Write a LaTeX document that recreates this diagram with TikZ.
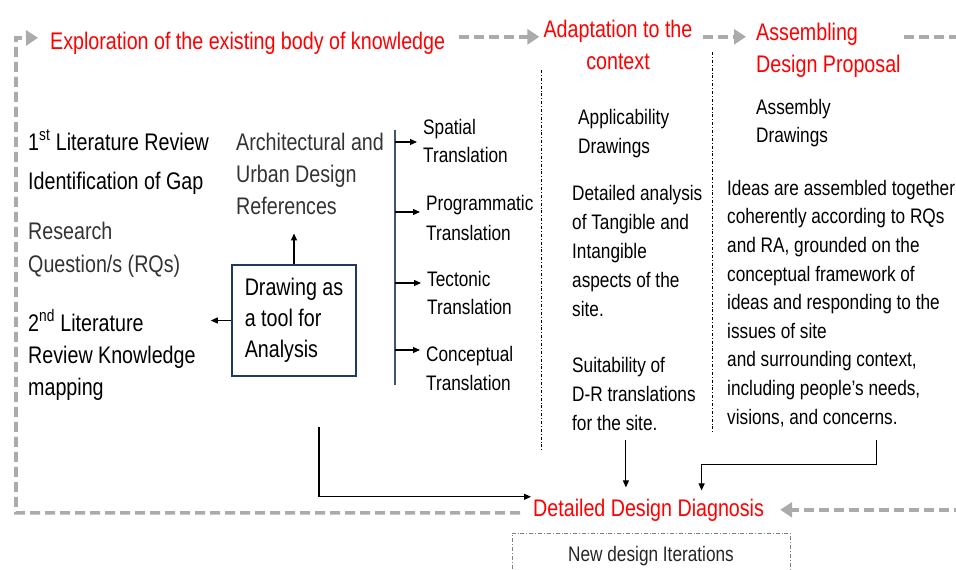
\documentclass[tikz,border=0pt]{standalone}
\usepackage{fontspec}
\setmainfont{Liberation Sans}[FakeStretch=0.82]
\usetikzlibrary{positioning, arrows.meta}
\usepackage{xcolor}

\definecolor{headred}{HTML}{FF0000}
\definecolor{loopgray}{HTML}{ABABAB}
\definecolor{trunkblue}{HTML}{44546A}
\definecolor{toolnavy}{HTML}{1F3864}
\definecolor{softtext}{HTML}{333333}

\begin{document}
\begin{tikzpicture}[
        x=1pt, y=-1pt,
        bigtxt/.style={inner sep=0pt, anchor=base west, align=left, font=\fontsize{24}{32}\selectfont},
        smalltxt/.style={inner sep=0pt, anchor=base west, align=left, font=\fontsize{21}{29}\selectfont},
        redhead/.style={bigtxt, text=headred},
        toolbox/.style={rectangle, draw=toolnavy, line width=2.6pt, minimum width=124pt, minimum height=111pt, align=left, font=\fontsize{24}{31}\selectfont},
        cycleline/.style={draw=loopgray, line width=3.6pt, dash pattern=on 10pt off 5pt, -{Triangle[length=12pt, width=15pt]}},
        arr/.style={draw=black, line width=1.1pt, -{Triangle[length=7pt, width=6pt]}},
        divider/.style={draw=black, line width=0.7pt, dash pattern=on 3pt off 2pt on 0.8pt off 2pt}
    ]
    \useasboundingbox (0,0) rectangle (956,570);

    % EXPLORATION OF THE EXISTING BODY OF KNOWLEDGE
    % (multi-line nodes sit on the baseline of their last line)
    \node[redhead] (explore) at (50,49) {Exploration of the existing body of knowledge};
    \node[bigtxt] (lit1) at (28,150) {1\textsuperscript{st} Literature Review};
    \node[bigtxt] (gap) at (28,189) {Identification of Gap};
    \node[bigtxt, text=softtext, font=\fontsize{24}{33}\selectfont] (rq) at (28,272) {Research\\Question/s (RQs)};
    \node[bigtxt] (lit2) at (28,395) {2\textsuperscript{nd} Literature\\Review Knowledge\\mapping};
    \node[bigtxt, text=softtext] (refs) at (236,214) {Architectural and\\Urban Design\\References};
    \node[toolbox] (tool) at (294,320.5) {Drawing as\\a tool for\\Analysis};

    % TRANSLATIONS
    \coordinate (trunktop) at (395,130);
    \coordinate (trunkbot) at (395,385);
    \draw[trunkblue, line width=1.2pt] (trunktop) -- (trunkbot);
    \node[smalltxt, font=\fontsize{21}{28}\selectfont] (spatial) at (423,162) {Spatial\\Translation};
    \node[smalltxt, font=\fontsize{21}{30}\selectfont] (prog) at (426,240) {Programmatic\\Translation};
    \node[smalltxt, font=\fontsize{21}{28}\selectfont] (tect) at (427,314) {Tectonic\\Translation};
    \node[smalltxt] (conc) at (426,390) {Conceptual\\Translation};
    \foreach \tr/\by in {spatial/142, prog/212, tect/283, conc/350} {
        \coordinate (br-\tr) at (395,\by);
        \draw[arr, shorten >=6pt] (br-\tr) -- (br-\tr -| \tr.west);
    }

    % ADAPTATION TO THE CONTEXT
    \node[redhead, align=center, anchor=base] (adapt) at (618,69) {Adaptation to the\\context};
    \node[smalltxt] (appl) at (578,153) {Applicability\\Drawings};
    \node[smalltxt] (detail) at (572,316) {Detailed analysis\\of Tangible and\\Intangible\\aspects of the\\site.};
    \node[smalltxt] (suit) at (572,430) {Suitability of\\D-R translations\\for the site.};
    \draw[divider] (541,70) -- (541,450);

    % ASSEMBLING DESIGN PROPOSAL
    \node[redhead] (assemble) at (756,72) {Assembling\\Design Proposal};
    \node[smalltxt, font=\fontsize{21}{28}\selectfont] (asmdraw) at (756,142) {Assembly\\Drawings};
    \node[smalltxt, font=\fontsize{21}{28.6}\selectfont] (ideas) at (727,424) {Ideas are assembled together\\coherently according to RQs\\and RA, grounded on the\\conceptual framework of\\ideas and responding to the\\issues of site\\and surrounding context,\\including people's needs,\\visions, and concerns.};
    \draw[divider] (712,52) -- (712,433);

    % DETAILED DESIGN DIAGNOSIS
    \node[redhead] (diag) at (533,516) {Detailed Design Diagnosis};
    \node[draw=gray, line width=0.7pt, dash pattern=on 4pt off 2pt on 0.8pt off 2pt, minimum width=278pt, minimum height=46pt, font=\fontsize{21}{25}\selectfont, text=black!85] (iter) at (651,556) {New design Iterations};

    % Flechas grises del ciclo
    \coordinate (loopcorner) at (16,38);
    \coordinate (rightrun) at (975,300);
    \draw[cycleline] ([xshift=-13pt, yshift=-3pt]diag.west) -| (loopcorner) -- ([xshift=-12pt, yshift=5pt]explore.west);
    \draw[cycleline, shorten >=4pt] ([xshift=14pt, yshift=6pt]explore.east) coordinate (t1) -- (t1 -| adapt.west);
    \draw[cycleline, shorten <=10pt, shorten >=10pt] (adapt.east |- t1) -- (t1 -| assemble.west);
    \draw[cycleline, shorten <=3pt, shorten >=16pt] (assemble.east |- t1) -| (rightrun) |- (diag.east);

    % Flechas negras
    \draw[arr, shorten >=19pt] (tool.north) -- (tool.north |- refs.south);
    \draw[arr, shorten >=15pt] (tool.west) -- (tool.west -| lit2.east);
    \coordinate (feed) at (319,427);
    \draw[arr] (feed) |- ([xshift=-2pt, yshift=13pt]diag.west);
    \draw[arr, shorten <=10pt, shorten >=11pt] ([xshift=-8pt]suit.south) coordinate (s2) -- (s2 |- diag.north);
    \draw[arr, shorten <=13pt, shorten >=8pt] ([xshift=35pt]ideas.south) -- ++(0,38) -| ([xshift=53pt]diag.north);
\end{tikzpicture}
\end{document}
